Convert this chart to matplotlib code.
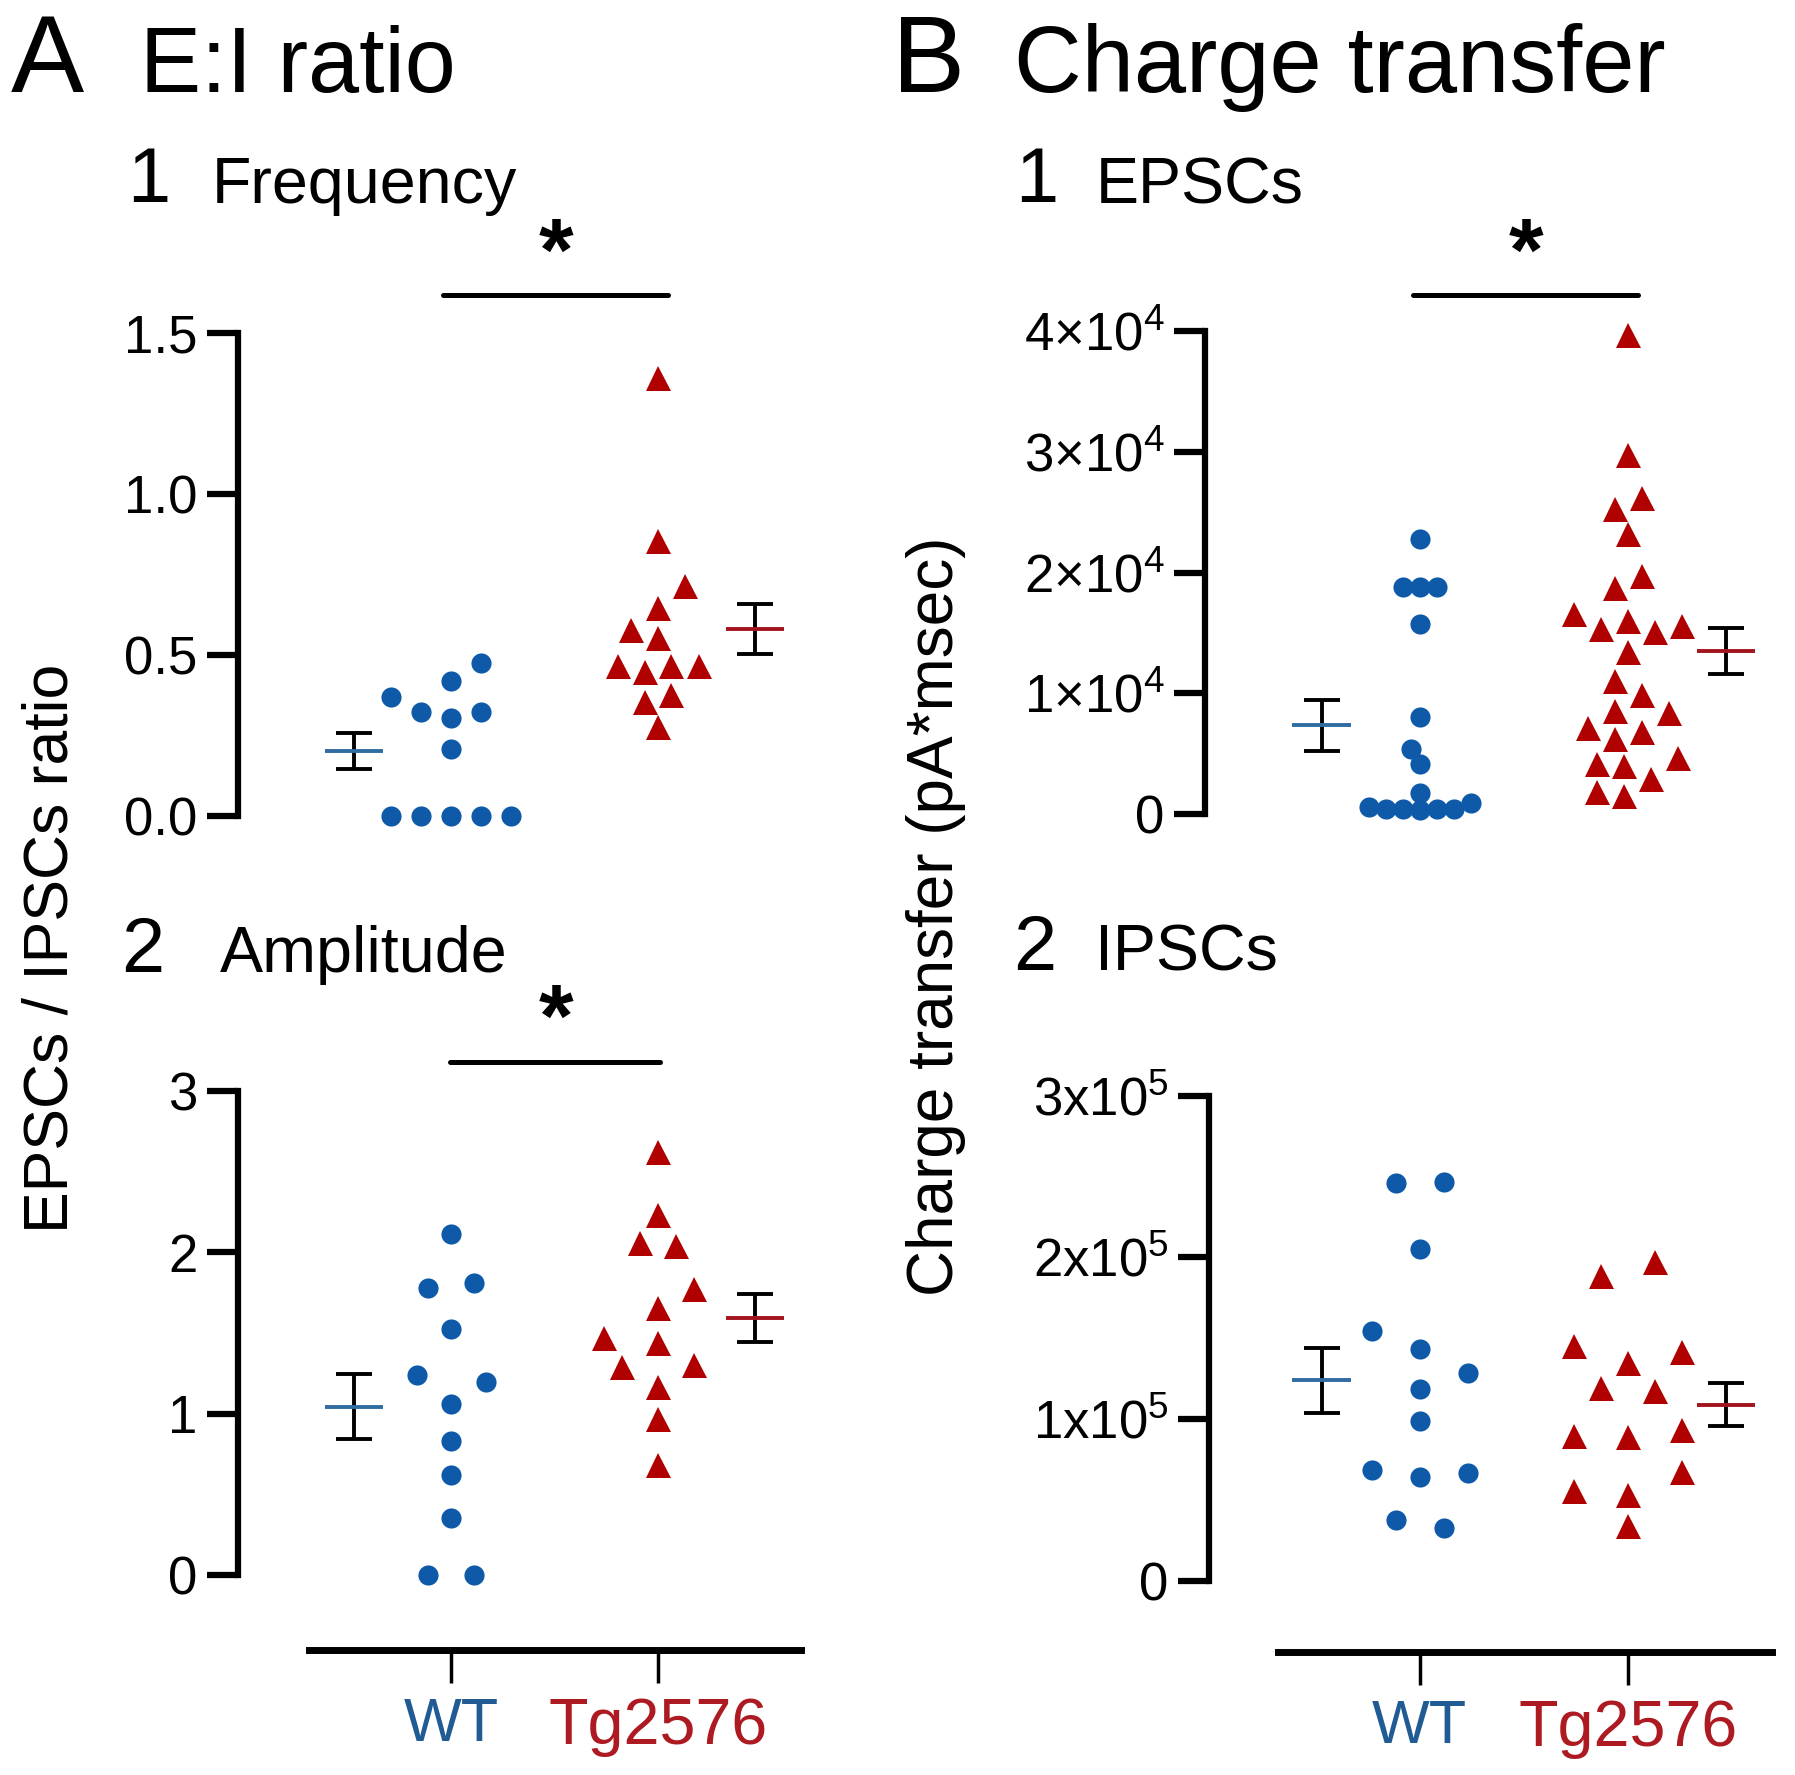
import numpy as np
import matplotlib
matplotlib.use('Agg')
import matplotlib.pyplot as plt

plt.rcParams['font.family'] = ['Liberation Sans', 'DejaVu Sans']
plt.rcParams['mathtext.fontset'] = 'custom'
plt.rcParams['mathtext.rm'] = 'Liberation Sans'
plt.rcParams['mathtext.it'] = 'Liberation Sans:italic'
plt.rcParams['mathtext.bf'] = 'Liberation Sans:bold'

# ---- data ----
groups = ['WT', 'Tg2576']

# A1  E:I ratio, frequency
freq_wt = [0.475, 0.42, 0.37, 0.323, 0.323, 0.305, 0.207, 0, 0, 0, 0, 0]
freq_tg = [1.36, 0.855, 0.715, 0.645, 0.577, 0.552, 0.465, 0.465, 0.465,
           0.447, 0.376, 0.355, 0.277]
# A2  E:I ratio, amplitude
amp_wt = [2.115, 1.809, 1.778, 1.525, 1.24, 1.198, 1.06, 0.83, 0.621, 0.356, 0, 0]
amp_tg = [2.625, 2.231, 2.056, 2.039, 1.771, 1.658, 1.468, 1.439, 1.304,
          1.29, 1.164, 0.97, 0.68]
# B1  charge transfer EPSCs (pA*msec)
epsc_wt = [22800, 18800, 18800, 18800, 15700, 8000, 5400, 4100, 1760,
           880, 590, 440, 440, 440, 440, 290]
epsc_tg = [39700, 29700, 26200, 25300, 23200, 19700, 18700, 16600, 16000,
           15600, 15300, 15100, 13400, 11000, 9850, 8500, 8400, 7100, 6800,
           6200, 4600, 4100, 4000, 2900, 1800, 1500]
# B2  charge transfer IPSCs (pA*msec)
ipsc_wt = [246300, 245900, 205200, 154400, 143500, 128800, 118900, 98600,
           68600, 66900, 64500, 37800, 32600]
ipsc_tg = [197200, 188700, 145400, 141800, 134800, 119100, 117700, 93100,
           89800, 88900, 67100, 55800, 53000, 34000]

yticks_a1 = [0, 0.5, 1.0, 1.5]
ylabels_a1 = ['0.0', '0.5', '1.0', '1.5']
yticks_a2 = [0, 1, 2, 3]
ylabels_a2 = ['0', '1', '2', '3']
yticks_b1 = [0, 10000, 20000, 30000, 40000]
ylabels_b1 = ['0', r'1×10$^{4}$', r'2×10$^{4}$', r'3×10$^{4}$', r'4×10$^{4}$']
yticks_b2 = [0, 100000, 200000, 300000]
ylabels_b2 = ['0', r'1x10$^{5}$', r'2x10$^{5}$', r'3x10$^{5}$']

# ---- style ----
blue = '#0e5aa9'
red = '#b00000'
blue_mean = '#2f6ca2'
red_mean = '#a3141c'
blue_txt = '#215b94'
red_txt = '#ad1a22'

W, H = 1795, 1775
fig = plt.figure(figsize=(W / 100, H / 100), dpi=100)


def px_axes(left, right, top, bottom, xmap, ymap):
    # xmap / ymap: (pixel a, value a, pixel b, value b)
    ax = fig.add_axes([left / W, 1 - bottom / H, (right - left) / W, (bottom - top) / H])
    ax.patch.set_alpha(0)

    def lim(p0, p1, m):
        pa, va, pb, vb = m
        k = (vb - va) / (pb - pa)
        return va + (p0 - pa) * k, va + (p1 - pa) * k
    ax.set_xlim(*lim(left, right, xmap))
    ax.set_ylim(*lim(bottom, top, ymap))
    return ax


def px2data(ax, x, y):
    return ax.transData.inverted().transform((x, H - y))


def swarm(ax, vals, center, dx, dy, step):
    # beeswarm in pixel space, elliptical exclusion zone
    ypx = ax.transData.transform(np.column_stack([np.zeros(len(vals)), vals]))[:, 1]
    order = np.argsort(ypx, kind='stable')

    def hit(o1, y1, o2, y2):
        return ((o1 - o2) / dx) ** 2 + ((y1 - y2) / dy) ** 2 < 1 - 1e-9

    offs = np.zeros(len(vals))
    done = []
    flip = 1
    for i in order:
        k = 0
        ok = None
        while ok is None:
            cands = [0.0] if k == 0 else [-flip * k * step, flip * k * step]
            for c in cands:
                if not any(hit(c, ypx[i], offs[j], ypx[j]) for j in done):
                    ok = c
                    break
            k += 1
        if ok != 0:
            flip = -flip
        offs[i] = ok
        done.append(i)

    # centre rows of (nearly) equal values
    rows, cur = [], [order[0]]
    for a, b in zip(order[:-1], order[1:]):
        if ypx[b] - ypx[a] < 0.55 * dy:
            cur.append(b)
        else:
            rows.append(cur)
            cur = [b]
    rows.append(cur)
    for row in rows:
        if len(row) < 2:
            continue
        sh = -np.mean(offs[row])
        sh = round(sh / step) * step if len(row) % 2 else sh
        others = [j for j in range(len(vals)) if j not in row]
        if not any(hit(offs[r] + sh, ypx[r], offs[j], ypx[j]) for r in row for j in others):
            offs[row] = offs[row] + sh

    xpx_unit = ax.transData.transform((1, 0))[0] - ax.transData.transform((0, 0))[0]
    return center + offs / xpx_unit


def panel(ax, wt, tg, prm):
    for vals, c, mk, ms, col, mcol, side, p in [
            (wt, 1, 'o', 14.5, blue, blue_mean, -1, prm[0]),
            (tg, 2, '^', 18, red, red_mean, 1, prm[1])]:
        xs = swarm(ax, vals, c, *p)
        ax.plot(xs, vals, mk, ms=ms, color=col, mec=col, mew=0, clip_on=False, zorder=3)
        m = np.mean(vals)
        sem = np.std(vals, ddof=1) / np.sqrt(len(vals))
        xm = c + side * 0.47
        ax.errorbar(xm, m, yerr=sem, fmt='none', ecolor='black', elinewidth=2.8,
                    capsize=13, capthick=2.8, zorder=2)
        ax.hlines(m, xm - 0.14, xm + 0.14, color=mcol, lw=2.8, zorder=4)


def style(ax, ticks, labels, top, bottom_axis=None):
    for sp in ['top', 'right']:
        ax.spines[sp].set_visible(False)
    ax.spines['left'].set_linewidth(4.5)
    ax.spines['left'].set_bounds(0, top)
    ax.spines['left'].set_capstyle('projecting')
    ax.set_yticks(ticks)
    ax.set_yticklabels(labels)
    ax.tick_params(axis='y', length=22, width=4.5, pad=7, labelsize=38)
    if bottom_axis is None:
        ax.spines['bottom'].set_visible(False)
        ax.tick_params(axis='x', bottom=False, labelbottom=False)
    else:
        ypx, x0px, x1px = bottom_axis
        yv = px2data(ax, 0, ypx)[1]
        x0 = px2data(ax, x0px, 0)[0]
        x1 = px2data(ax, x1px, 0)[0]
        ax.spines['bottom'].set_position(('data', yv))
        ax.spines['bottom'].set_bounds(x0, x1)
        ax.spines['bottom'].set_linewidth(5)
        ax.set_xticks([1, 2])
        ax.set_xticklabels(groups)
        ax.tick_params(axis='x', length=24, width=2.5, pad=10)
        for lbl, c, fs in zip(ax.get_xticklabels(), [blue_txt, red_txt], [44, 46.5]):
            lbl.set_color(c)
            lbl.set_fontsize(fs)


def signif(ax, x0px, x1px, ypx, xs_px, ys_px):
    x0, y = px2data(ax, x0px, ypx)
    x1 = px2data(ax, x1px, ypx)[0]
    ax.plot([x0, x1], [y, y], color='black', lw=3.6, clip_on=False, solid_capstyle='round')
    xa, ya = px2data(ax, xs_px, ys_px)
    ax.text(xa, ya, '*', ha='center', va='center', fontsize=64, fontweight='bold', clip_on=False)


ax1 = px_axes(238, 820, 290, 840, (451, 1, 658, 2), (816, 0, 333, 1.5))
ax2 = px_axes(238, 820, 1050, 1700, (451, 1, 658, 2), (1575, 0, 1091, 3))
ax3 = px_axes(1205, 1790, 290, 840, (1419.6, 1, 1628, 2), (814, 0, 331, 4e4))
ax4 = px_axes(1209, 1790, 1050, 1700, (1419.6, 1, 1628, 2), (1581, 0, 1095.6, 3e5))

style(ax1, yticks_a1, ylabels_a1, 1.5)
style(ax2, yticks_a2, ylabels_a2, 3, (1650, 309, 801))
style(ax3, yticks_b1, ylabels_b1, 4e4)
style(ax4, yticks_b2, ylabels_b2, 3e5, (1652, 1278, 1772))

# swarm spacing per group: (x exclusion px, y exclusion px, slot step px)
panel(ax1, freq_wt, freq_tg, [(30, 30, 15), (27, 27, 13.5)])
panel(ax2, amp_wt, amp_tg, [(46, 30, 23), (36, 30, 18)])
panel(ax3, epsc_wt, epsc_tg, [(17, 17, 8.5), (27, 27, 13.5)])
panel(ax4, ipsc_wt, ipsc_tg, [(48, 28, 24), (54, 27, 27)])

signif(ax1, 443, 668, 295, 556, 257)
signif(ax2, 450, 660, 1062, 556, 1023)
signif(ax3, 1413, 1638, 295, 1526, 257)

# panel titles
fig.text(11 / W, 1 - 92 / H, 'A', fontsize=79, va='baseline')
fig.text(140 / W, 1 - 92 / H, 'E:I ratio', fontsize=66, va='baseline')
fig.text(892 / W, 1 - 92 / H, 'B', fontsize=79, va='baseline')
fig.text(1014 / W, 1 - 92 / H, 'Charge transfer', fontsize=67.5, va='baseline')

fig.text(127 / W, 1 - 202 / H, '1', fontsize=56, va='baseline')
fig.text(212 / W, 1 - 203 / H, 'Frequency', fontsize=46.5, va='baseline')
fig.text(121 / W, 1 - 972 / H, '2', fontsize=56, va='baseline')
fig.text(220 / W, 1 - 972 / H, 'Amplitude', fontsize=46.5, va='baseline')
fig.text(1015 / W, 1 - 202 / H, '1', fontsize=56, va='baseline')
fig.text(1096 / W, 1 - 203 / H, 'EPSCs', fontsize=46.5, va='baseline')
fig.text(1013 / W, 1 - 970 / H, '2', fontsize=56, va='baseline')
fig.text(1095 / W, 1 - 970 / H, 'IPSCs', fontsize=46.5, va='baseline')

fig.text(51 / W, 1 - 948 / H, 'EPSCs / IPSCs ratio', fontsize=45, rotation=90,
         ha='center', va='center')
fig.text(936 / W, 1 - 916 / H, 'Charge transfer (pA*msec)', fontsize=46, rotation=90,
         ha='center', va='center')

fig.savefig('out.png', dpi=100)
